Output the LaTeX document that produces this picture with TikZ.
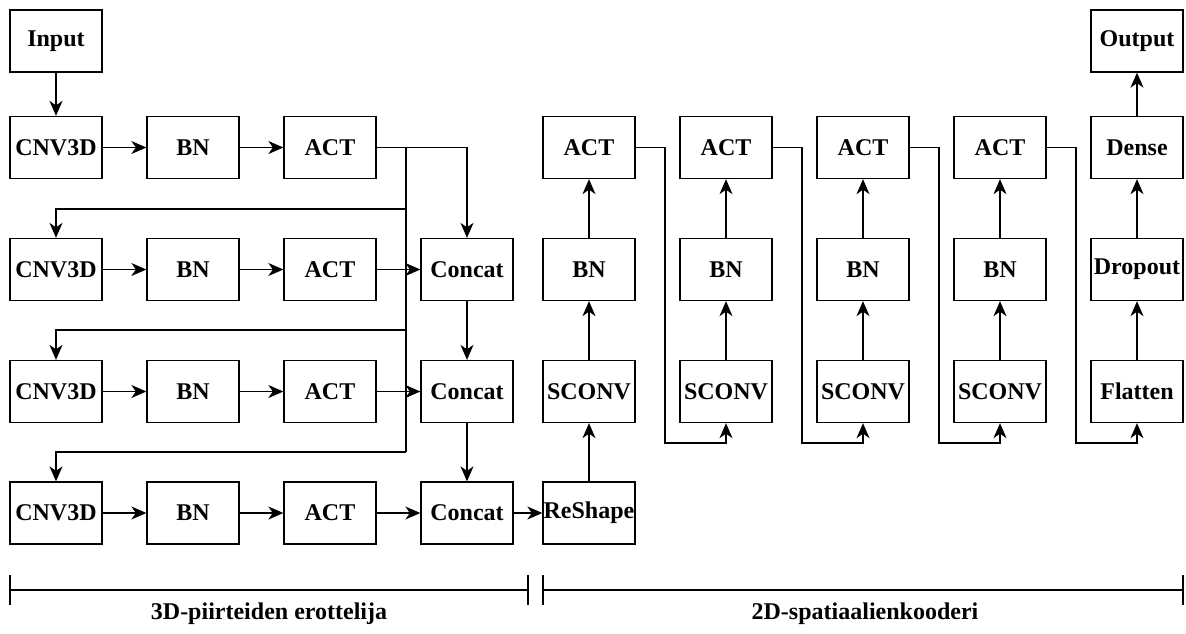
\documentclass[tikz,border=0pt]{standalone}
\usepackage{fontspec}
\setmainfont{Liberation Serif}
\usetikzlibrary{arrows.meta}
\begin{document}
\begin{tikzpicture}[x=1pt,y=-1pt,
  layer/.style={draw, line width=1.3pt, minimum width=92pt, minimum height=62pt,
    inner sep=0pt, font=\fontsize{24}{28}\selectfont\bfseries},
  flow/.style={line width=1.3pt, -{Stealth[length=15pt,width=13pt,inset=4.5pt]}},
  wire/.style={line width=1.3pt},
  brace/.style={line width=1.3pt},
  caption/.style={font=\fontsize{24}{28}\selectfont\bfseries}]
\useasboundingbox (0,0) rectangle (1186,633);

% --- 3D feature extractor ---
\node[layer] (in) at (56,41) {Input};
\foreach \r/\y in {1/147.5,2/269.5,3/391.5,4/513} {
  \node[layer] (c\r) at (56,\y) {CNV3D};
  \node[layer] (b\r) at (193,\y) {BN};
  \node[layer] (a\r) at (330,\y) {ACT};
  \draw[flow] (c\r) -- (b\r);
  \draw[flow] (b\r) -- (a\r);
}
\node[layer] (k1) at (467,269.5) {Concat};
\node[layer] (k2) at (467,391.5) {Concat};
\node[layer] (k3) at (467,513) {Concat};

\draw[flow] (in) -- (c1);
\coordinate (t0) at (406,147.5);
\coordinate (t1) at (406,209);
\coordinate (t2) at (406,330);
\coordinate (t3) at (406,452);
\draw[flow] (a1.east) -- (a1.east -| k1) -- (k1.north);
\draw[wire] (t0) -- (t3);
\draw[flow] (t1) -| (c2.north);
\draw[flow] (t2) -| (c3.north);
\draw[flow] (t3) -| (c4.north);
\draw[flow] (a2) -- (k1);
\draw[flow] (a3) -- (k2);
\draw[flow] (a4) -- (k3);
\draw[flow] (k1) -- (k2);
\draw[flow] (k2) -- (k3);

% --- 2D spatial encoder ---
\node[layer] (rs) at (589,513) {ReShape};
\draw[flow] (k3) -- (rs);
\foreach \i/\x in {1/589,2/726,3/863,4/1000} {
  \node[layer] (s\i) at (\x,391.5) {SCONV};
  \node[layer] (n\i) at (\x,269.5) {BN};
  \node[layer] (r\i) at (\x,147.5) {ACT};
  \draw[flow] (s\i) -- (n\i);
  \draw[flow] (n\i) -- (r\i);
}
\draw[flow] (rs) -- (s1);

\node[layer] (fl) at (1137,391.5) {Flatten};
\node[layer] (dr) at (1137,269.5) {Dropout};
\node[layer] (de) at (1137,147.5) {Dense};
\node[layer] (out) at (1137,41) {Output};
\draw[flow] (fl) -- (dr);
\draw[flow] (dr) -- (de);
\draw[flow] (de) -- (out);

% skip routes from each ACT to the next column's bottom
\foreach \a/\b/\x in {r1/s2/665,r2/s3/802,r3/s4/939,r4/fl/1076} {
  \draw[flow] (\a.east) -- (\x,147.5) -- (\x,443) -- (\b.south |- 0,443) -- (\b.south);
}

% --- section brackets ---
\coordinate (L1) at (10,590);
\coordinate (L2) at (528,590);
\coordinate (R1) at (543,590);
\coordinate (R2) at (1183,590);
\draw[brace] (L1) -- (L2);
\draw[brace] (R1) -- (R2);
\foreach \p in {L1,L2,R1,R2} \draw[brace] ([yshift=-15pt]\p) -- ([yshift=15pt]\p);
\node[caption] (cap1) at (269,614) {3D-piirteiden erottelija};
\node[caption] (cap2) at (865,614) {2D-spatiaalienkooderi};
\end{tikzpicture}
\end{document}
